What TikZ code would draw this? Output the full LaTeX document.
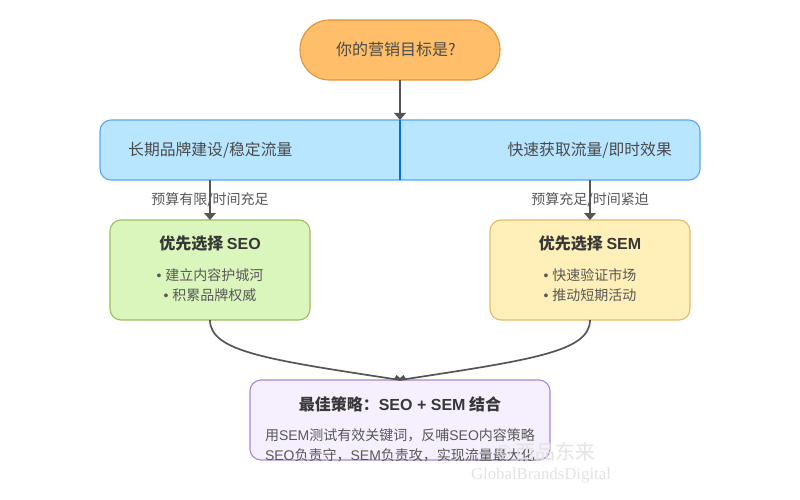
\documentclass[tikz,border=0pt]{standalone}
\usepackage{fontspec}
\setmainfont{Liberation Sans}
\newfontfamily\cjk{Noto Sans CJK SC}
\newfontfamily\lat{Liberation Sans}
\usetikzlibrary{arrows.meta,calc}
\definecolor{txt}{HTML}{4A4A4A}
\definecolor{edge}{HTML}{555555}
\definecolor{startfill}{RGB}{255,190,105}
\definecolor{startline}{RGB}{226,146,58}
\definecolor{choicefill}{RGB}{184,229,255}
\definecolor{choiceline}{RGB}{92,165,240}
\definecolor{split}{RGB}{12,110,220}
\definecolor{seofill}{RGB}{219,246,188}
\definecolor{seoline}{RGB}{155,190,95}
\definecolor{semfill}{RGB}{255,239,184}
\definecolor{semline}{RGB}{232,184,104}
\definecolor{bestfill}{RGB}{246,240,254}
\definecolor{bestline}{RGB}{170,135,210}
\tikzset{x=1pt,y=-1pt,
 box/.style={line width=1.1pt,rounded corners=11pt,inner sep=0pt,outer sep=0pt},
 lab/.style={font=\cjk\fontsize{15.8}{18}\selectfont,text=txt,inner sep=0pt},
 head/.style={font=\cjk\bfseries\fontsize{16}{18}\selectfont,text=black!78,inner sep=0pt},
 sm/.style={font=\cjk\fontsize{14}{16}\selectfont,text=txt!92,inner sep=0pt},
 arr/.style={draw=edge,line width=2pt,-{Triangle[width=11.5pt,length=7pt]}},
 curve/.style={draw=edge,line width=1.7pt},
 wm/.style={inner sep=0pt,text=black!11}}
\begin{document}
\begin{tikzpicture}
\useasboundingbox (0,0) rectangle (800,500);
\fill[white] (0,0) rectangle (800,500);
\node[box,rounded corners=29.5pt,fill=startfill,draw=startline,minimum width=200pt,minimum height=60pt] (start) at (400,50) {};
\node[lab,anchor=west,font=\cjk\fontsize{16}{18}\selectfont] (startl) at (336,49) {你的营销目标是?};
\node[box,fill=choicefill,draw=choiceline,minimum width=600pt,minimum height=60pt] (choice) at (400,150) {};
\draw[draw=split,line width=1.6pt] (choice.north) -- (choice.south);
\node[lab,anchor=west] (cl) at (128,150) {长期品牌建设/稳定流量};
\node[lab,anchor=east] (cr) at (672,150) {快速获取流量/即时效果};
\node[box,fill=seofill,draw=seoline,minimum width=200pt,minimum height=100pt] (seobox) at (210,270) {};
\node[box,fill=semfill,draw=semline,minimum width=200pt,minimum height=100pt] (sembox) at (590,270) {};
\node[box,fill=bestfill,draw=bestline,minimum width=300pt,minimum height=80pt] (bestbox) at (400,420) {};
\node[head] (seo) at (210,244) {优先选择 {\lat\bfseries SEO}};
\node[sm] (s1) at (210,275) {{\lat • }建立内容护城河};
\node[sm] (s2) at (210,295) {{\lat • }积累品牌权威};
\node[head] (sem) at (590,244) {优先选择 {\lat\bfseries SEM}};
\node[sm] (m1) at (590,275) {{\lat • }快速验证市场};
\node[sm] (m2) at (590,295) {{\lat • }推动短期活动};
\node[head] (best) at (400,404) {最佳策略^^^^ff1a{\lat\bfseries SEO + SEM} 结合};
\node[sm] (b1) at (400,435) {用{\lat SEM}测试有效关键词^^^^ff0c反哺{\lat SEO}内容策略};
\node[sm] (b2) at (400,455) {{\lat SEO}负责守^^^^ff0c{\lat SEM}负责攻^^^^ff0c实现流量最大化};
\coordinate (cho1) at (choice.south -| seobox.north);
\coordinate (cho2) at (choice.south -| sembox.north);
\draw[arr] (start.south) -- (choice.north);
\node[sm] (el) at (210,200) {预算有限/时间充足};
\node[sm] (er) at (590,200) {预算充足/时间紧迫};
\draw[arr] (cho1) -- (seobox.north);
\draw[arr] (cho2) -- (sembox.north);
\draw[curve] (seobox.south) .. controls (210,352) and (270,360) .. (bestbox.north);
\draw[curve] (sembox.south) .. controls (590,352) and (530,360) .. (bestbox.north);
\fill[edge] (393.5,380) -- (396.5,375) -- (400,378) -- (403.5,375) -- (406.5,380) -- cycle;
\node[wm,anchor=east,font=\cjk\fontsize{20}{22}\selectfont] (w1) at (596,452) {{\lat ©} 西品东来};
\node[wm,anchor=center,font=\fontspec{Liberation Serif}\fontsize{16.8}{19}\selectfont] (w2) at (541,475) {GlobalBrandsDigital};
\end{tikzpicture}
\end{document}
